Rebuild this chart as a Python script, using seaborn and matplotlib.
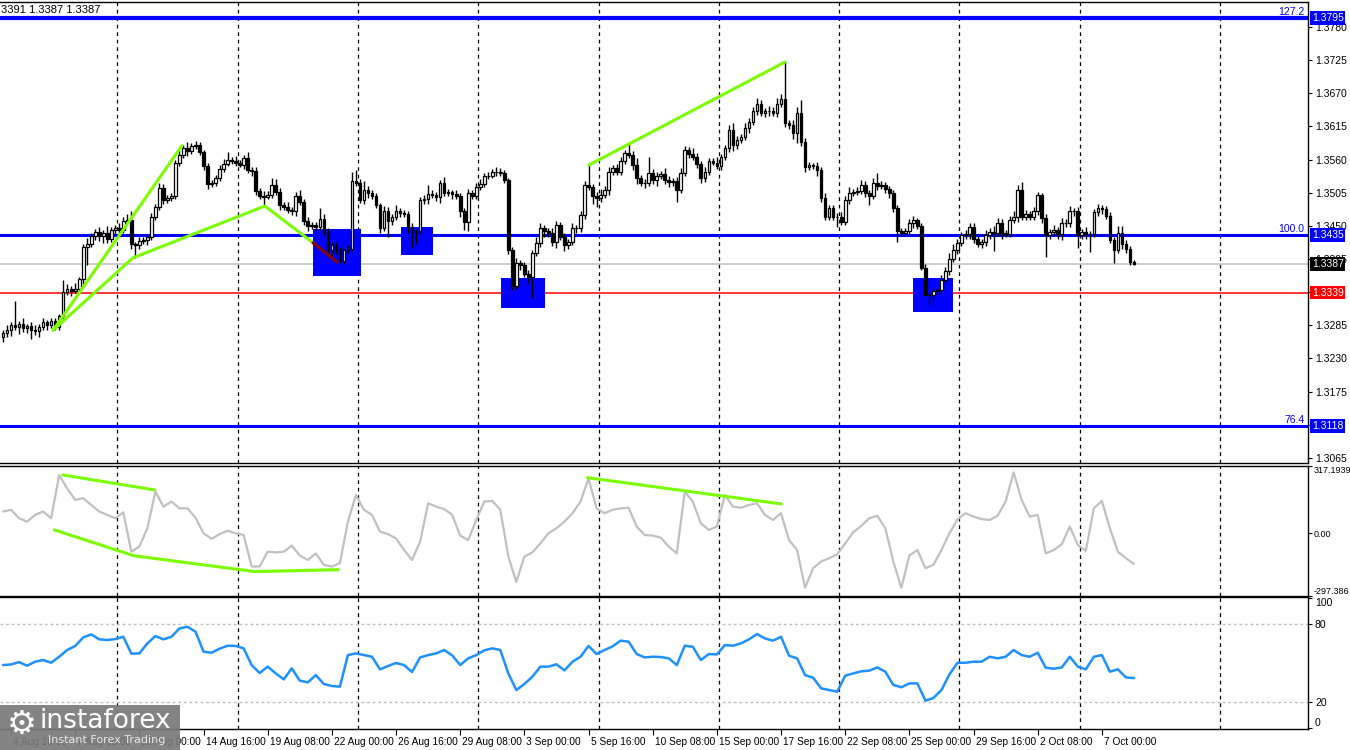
import numpy as np
import pandas as pd
import matplotlib
matplotlib.use("Agg")
import matplotlib.pyplot as plt
import matplotlib.transforms as mtransforms
from matplotlib.patches import Rectangle
import seaborn as sns

sns.set_theme(style="white")
plt.rcParams['font.family'] = ['Liberation Sans', 'DejaVu Sans']

# ---------------- data (prices in pips above 1.3000) ----------------
first_open = 265
close_pips = [
    272, 278, 285, 283, 287, 280, 284, 278, 275, 282, 290, 286, 292, 282, 300, 340, 345, 342, 345, 362,
    415, 420, 433, 440, 433, 438, 428, 444, 446, 443, 458, 460, 420, 418, 425, 427, 432, 465, 482, 513,
    493, 496, 500, 554, 568, 580, 574, 583, 585, 572, 549, 520, 522, 530, 545, 553, 560, 558, 554, 551,
    562, 543, 541, 508, 500, 498, 502, 518, 507, 485, 482, 476, 474, 500, 490, 458, 450, 452, 449, 462,
    440, 410, 418, 410, 392, 410, 412, 524, 522, 493, 510, 505, 500, 485, 446, 475, 458, 465, 474, 472,
    470, 448, 440, 441, 493, 495, 503, 501, 498, 521, 505, 506, 503, 500, 474, 457, 504, 500, 515, 520,
    532, 533, 539, 540, 538, 526, 410, 350, 388, 385, 371, 366, 405, 421, 446, 442, 438, 424, 452, 432,
    418, 424, 446, 446, 468, 518, 514, 500, 496, 501, 510, 540, 546, 540, 557, 571, 568, 551, 529, 522,
    521, 537, 526, 533, 536, 526, 523, 525, 510, 538, 576, 570, 565, 552, 529, 540, 557, 555, 550, 565,
    579, 609, 584, 593, 598, 612, 623, 640, 653, 637, 640, 641, 637, 653, 661, 620, 618, 604, 637, 590,
    548, 551, 550, 543, 496, 465, 479, 465, 465, 457, 493, 504, 507, 508, 518, 504, 499, 521, 516, 518,
    511, 505, 479, 441, 439, 441, 454, 460, 450, 380, 335, 336, 342, 343, 361, 375, 395, 410, 422, 435,
    437, 449, 428, 420, 424, 435, 440, 438, 455, 438, 437, 460, 464, 510, 465, 470, 465, 474, 501, 463,
    435, 440, 443, 436, 455, 454, 474, 475, 435, 440, 436, 436, 473, 480, 478, 467, 427, 410, 439, 420,
    411, 390, 387,
]
up_wick = [
    6, 8, 5, 40, 6, 10, 4, 6, 8, 5, 7, 4, 6, 5, 3, 20, 8, 6, 10, 4,
    5, 10, 6, 5, 8, 6, 12, 5, 6, 8, 7, 10, 15, 4, 6, 5, 4, 6, 5, 8,
    6, 5, 5, 6, 8, 5, 10, 4, 6, 5, 4, 6, 4, 5, 6, 8, 13, 4, 8, 5,
    6, 10, 5, 6, 5, 8, 6, 12, 10, 6, 5, 8, 6, 7, 10, 5, 6, 4, 5, 17,
    8, 6, 5, 6, 5, 4, 6, 16, 18, 6, 14, 6, 5, 4, 3, 8, 6, 5, 10, 6,
    5, 4, 6, 4, 5, 6, 15, 6, 5, 5, 10, 6, 4, 6, 5, 6, 8, 5, 6, 8,
    5, 6, 5, 8, 6, 4, 3, 5, 8, 6, 5, 6, 5, 10, 8, 6, 5, 8, 6, 5,
    6, 5, 8, 5, 6, 6, 33, 5, 6, 10, 6, 8, 5, 6, 7, 5, 17, 6, 12, 5,
    6, 27, 8, 6, 5, 10, 6, 5, 6, 8, 6, 5, 10, 6, 5, 8, 5, 6, 10, 5,
    6, 8, 12, 6, 5, 8, 6, 8, 10, 6, 5, 8, 6, 10, 8, 62, 6, 8, 10, 22,
    6, 5, 4, 6, 5, 8, 6, 5, 6, 8, 6, 11, 5, 6, 8, 6, 5, 8, 16, 6,
    5, 6, 4, 5, 6, 5, 8, 6, 3, 5, 6, 4, 5, 6, 8, 6, 10, 10, 6, 5,
    6, 5, 5, 6, 5, 8, 6, 10, 8, 6, 5, 6, 10, 8, 13, 6, 5, 8, 6, 4,
    6, 5, 8, 6, 8, 6, 9, 5, 6, 5, 8, 6, 5, 6, 4, 5, 6, 5, 11, 11,
    6, 5, 3,
]
dn_wick = [
    8, 6, 10, 5, 12, 6, 8, 15, 6, 10, 5, 8, 6, 4, 5, 6, 5, 8, 4, 6,
    8, 30, 5, 6, 8, 12, 6, 5, 8, 6, 5, 4, 8, 22, 6, 5, 8, 5, 6, 5,
    6, 5, 4, 6, 5, 6, 8, 5, 6, 4, 6, 8, 6, 5, 6, 5, 4, 6, 5, 4,
    6, 5, 8, 6, 5, 13, 4, 6, 5, 8, 6, 5, 6, 8, 5, 6, 8, 5, 6, 5,
    6, 8, 10, 6, 4, 6, 5, 4, 6, 5, 6, 8, 5, 6, 8, 5, 26, 6, 5, 8,
    6, 10, 27, 20, 5, 6, 8, 5, 6, 10, 5, 6, 8, 5, 10, 14, 15, 5, 6, 5,
    6, 5, 4, 6, 5, 5, 6, 6, 5, 8, 6, 10, 36, 5, 6, 10, 6, 8, 10, 6,
    10, 6, 5, 8, 6, 6, 5, 14, 14, 6, 5, 8, 6, 5, 6, 5, 6, 8, 10, 6,
    8, 5, 6, 10, 5, 6, 8, 6, 20, 5, 6, 8, 5, 6, 8, 6, 5, 4, 6, 8,
    5, 6, 10, 6, 5, 6, 8, 5, 6, 5, 6, 8, 5, 6, 5, 6, 8, 10, 17, 8,
    8, 5, 6, 11, 6, 5, 6, 5, 16, 6, 5, 6, 5, 6, 5, 6, 14, 5, 6, 5,
    6, 8, 6, 17, 5, 6, 5, 8, 5, 3, 2, 16, 12, 5, 6, 5, 6, 5, 6, 5,
    6, 8, 6, 5, 6, 8, 6, 29, 5, 10, 6, 5, 6, 8, 6, 5, 6, 5, 6, 8,
    37, 6, 5, 8, 10, 6, 5, 8, 22, 6, 8, 29, 5, 6, 8, 5, 6, 22, 5, 8,
    6, 5, 2,
]

# CCI and RSI, read every second bar
cci_values = [
    102, 110, 70, 54, 86, 102, 70, 274, 211, 157, 165, 133, 102, 86, 70, 98, -88, -64, 23, 196,
    125, 149, 117, 117, 73, -1, -27, -5, 11, -1, -9, -158, -158, -88, -91, -88, -59, -106, -127, -96,
    -150, -158, -142, 54, 180, 110, 86, 7, -5, -25, -80, -127, -41, 141, 125, 114, 86, -12, -33, 62,
    149, 152, 110, -111, -231, -111, -91, -49, -1, 23, 54, 94, 149, 259, 117, 94, 110, 117, 120, 31,
    -9, -12, -21, -64, -96, 196, 149, 46, 15, 31, 180, 125, 120, 133, 141, 86, 62, 94, -33, -80,
    -258, -166, -134, -119, -100, -49, 4, 34, 70, 82, 23, -134, -258, -106, -80, -166, -150, -80, -1, 65,
    94, 78, 66, 62, 82, 149, 287, 157, 78, 86, -96, -80, -53, 31, -56, -84, 117, 152, 23, -88,
    -119, -146,
]
rsi_values = [
    48.4, 48.9, 50.7, 47.9, 51.0, 52.3, 50.2, 54.8, 60.0, 63.1, 69.7, 72.0, 68.2, 67.7, 68.4, 70.2, 57.2, 57.4, 65.1, 70.7,
    68.2, 70.2, 76.6, 77.9, 74.1, 58.7, 57.9, 61.0, 63.3, 63.1, 61.3, 48.4, 42.3, 47.2, 42.0, 37.4, 45.9, 36.4, 35.1, 40.7,
    33.8, 32.3, 31.8, 56.1, 57.4, 56.1, 54.8, 45.1, 47.7, 50.0, 48.4, 43.1, 54.3, 56.1, 57.4, 60.0, 55.9, 48.4, 53.6, 56.1,
    59.7, 61.3, 60.0, 42.0, 29.2, 33.8, 39.5, 47.2, 47.2, 49.0, 44.3, 51.0, 54.8, 63.1, 56.9, 60.0, 62.8, 67.2, 66.4, 56.9,
    54.3, 54.8, 54.6, 53.6, 48.4, 63.3, 62.5, 52.3, 56.9, 56.6, 63.8, 63.3, 65.1, 68.2, 72.3, 68.9, 67.2, 70.2, 55.6, 53.6,
    40.7, 38.7, 30.5, 29.2, 27.9, 40.2, 42.0, 43.6, 44.1, 46.6, 43.3, 33.1, 31.3, 34.3, 34.3, 21.0, 23.1, 29.2, 41.3, 50.2,
    50.2, 51.0, 51.0, 54.8, 53.6, 54.8, 60.0, 56.1, 54.8, 57.9, 46.4, 45.6, 46.6, 54.8, 47.2, 45.1, 54.8, 56.1, 43.3, 45.1,
    38.9, 38.4,
]

# time axis labels (every 16 bars starting at bar 2)
time_labels = ["4 Aug 16:00", "7 Aug 08:00", "12 Aug 00:00", "14 Aug 16:00", "19 Aug 08:00",
               "22 Aug 00:00", "26 Aug 16:00", "29 Aug 08:00", "3 Sep 00:00", "5 Sep 16:00",
               "10 Sep 08:00", "15 Sep 00:00", "17 Sep 16:00", "22 Sep 08:00", "25 Sep 00:00",
               "29 Sep 16:00", "2 Oct 08:00", "7 Oct 00:00"]
week_start_bars = [29, 59, 89, 119, 149, 179, 209, 239, 269, 304]

# price axis tick values (step 0.0055)
price_ticks = [1.3065, 1.3120, 1.3175, 1.3230, 1.3285, 1.3340, 1.3395, 1.3450, 1.3505,
               1.3560, 1.3615, 1.3670, 1.3725, 1.3780]
hidden_tick_labels = [1.3120, 1.3340]   # fully covered by the level boxes

# levels
fib_levels = [(1.3795, "127.2"), (1.3435, "100.0"), (1.3118, "76.4")]
bid_price = 1.3387
support_price = 1.3339

# drawn objects (bar, pips)
zones = [(77.3, 89.3, 367, 445), (99.3, 107.2, 402, 448), (124.2, 135.2, 314, 364), (226.9, 236.9, 307, 364)]
green_lines = [
    [(12.5, 277), (44.6, 583)],
    [(12.5, 277), (32.4, 397), (65.3, 483), (77.3, 422)],
    [(146.1, 551), (195.0, 722)],
]
red_line = [(77.3, 422), (83.3, 390)]
cci_lines = [
    [(14.9, 275), (37.8, 204)],
    [(12.8, 15), (32.6, -107), (62.8, -182), (83.6, -173)],
    [(145.7, 262), (194.0, 138)],
]

# ---------------- derived frames ----------------
def px(p):
    return 1.3 + np.asarray(p, dtype=float) / 10000.0

n = len(close_pips)
bars = np.arange(n)
close = px(close_pips)
open_ = np.r_[px(first_open), close[:-1]]
high = np.maximum(open_, close) + np.asarray(up_wick) / 10000.0
low = np.minimum(open_, close) - np.asarray(dn_wick) / 10000.0
ind = pd.DataFrame({"bar": np.arange(0, n, 2)[:len(cci_values)], "cci": cci_values, "rsi": rsi_values})

# ---------------- figure ----------------
W, H = 1350, 750
fig = plt.figure(figsize=(W / 100, H / 100), dpi=100)
fig.patch.set_facecolor("white")

def rect(x0, y0, x1, y1):
    return [x0 / W, 1 - y1 / H, (x1 - x0) / W, (y1 - y0) / H]

ax1 = fig.add_axes(rect(0, 2, 1308, 463))
ax2 = fig.add_axes(rect(0, 466, 1308, 596), sharex=ax1)
ax3 = fig.add_axes(rect(0, 597, 1308, 729), sharex=ax1)

FS = 7.5
for ax in (ax1, ax2, ax3):
    ax.set_facecolor("white")
    for s in ("top", "right", "bottom"):
        ax.spines[s].set_visible(True)
        ax.spines[s].set_color("black")
        ax.spines[s].set_linewidth(1.0)
    ax.spines["left"].set_visible(False)
    ax.yaxis.tick_right()
    ax.tick_params(axis="y", which="both", right=True, left=False, length=3, width=0.8,
                   labelsize=FS, pad=2, colors="black")
    for wb in week_start_bars:
        ax.axvline(wb - 0.5, color="black", lw=0.9, ls=(0, (3, 3)), zorder=1)
    ax.grid(False)

ax1.set_xlim(-0.75, 325.4)

# ---- main price panel ----
ax1.set_ylim(1.30566, 1.38215)
ax1.set_yticks(price_ticks)
ax1.set_yticklabels(["" if t in hidden_tick_labels else f"{t:.4f}" for t in price_ticks])
ax1.tick_params(axis="x", bottom=False, labelbottom=False)

trans1 = mtransforms.blended_transform_factory(ax1.transAxes, ax1.transData)
for price, lab in fib_levels:
    lw = 3.0 if lab == "127.2" else 2.2
    ax1.axhline(price, color="#0000FF", lw=lw, zorder=1.5)
    ax1.text(0.997, price + 0.0002, lab, color="#0000FF", fontsize=FS, ha="right", va="bottom",
             transform=trans1)
ax1.axhline(bid_price, color="#C0C0C0", lw=1.1, zorder=1.5)
ax1.axhline(support_price, color="#FF0000", lw=1.1, zorder=1.5)

for b0, b1, p0, p1 in zones:
    ax1.add_patch(Rectangle((b0, px(p0)), b1 - b0, px(p1) - px(p0), facecolor="#0000FF",
                            edgecolor="none", zorder=2))

# candles
ax1.vlines(bars, low, high, color="black", lw=1.0, zorder=3)
body_low = np.minimum(open_, close)
body_h = np.maximum(np.abs(close - open_), 0.00004)
bull = close >= open_
ax1.bar(bars[bull], body_h[bull], bottom=body_low[bull], width=0.66, color="white",
        edgecolor="black", linewidth=0.9, zorder=4)
ax1.bar(bars[~bull], body_h[~bull], bottom=body_low[~bull], width=0.66, color="black",
        edgecolor="black", linewidth=0.9, zorder=4)

for line in green_lines:
    xs, ys = zip(*line)
    sns.lineplot(x=list(xs), y=list(px(ys)), ax=ax1, color="#7CFC00", lw=2.2, sort=False,
                 zorder=5, legend=False)
xs, ys = zip(*red_line)
sns.lineplot(x=list(xs), y=list(px(ys)), ax=ax1, color="#8B0000", lw=2.2, sort=False, zorder=6,
             legend=False)
ax1.set_xlabel("")
ax1.set_ylabel("")

# price boxes on right axis
boxes = [(1.3795, "#0000FF"), (1.3435, "#0000FF"), (1.3118, "#0000FF"),
         (bid_price, "black"), (support_price, "#FF0000")]
for price, col in boxes:
    ax1.text(1.003, price, f"{price:.4f}", transform=trans1, color="white", fontsize=FS,
             ha="left", va="center", clip_on=False, zorder=10,
             bbox=dict(facecolor=col, edgecolor="none", pad=1.2))

# ---- CCI panel ----
sns.lineplot(data=ind, x="bar", y="cci", ax=ax2, color="#C0C0C0", lw=1.6, legend=False, zorder=3)
for line in cci_lines:
    xs, ys = zip(*line)
    sns.lineplot(x=list(xs), y=list(ys), ax=ax2, color="#7CFC00", lw=2.2, sort=False, zorder=4,
                 legend=False)
ax2.set_ylim(-297.386, 317.1939)
ax2.set_yticks([-297.386, 0, 317.1939])
ax2.set_yticklabels(["-297.386", "0.00", "317.1939"])
ax2.tick_params(axis="y", labelsize=6.5, pad=1)
lbls = ax2.get_yticklabels()
lbls[0].set_va("bottom")
lbls[2].set_va("top")
ax2.tick_params(axis="x", bottom=False, labelbottom=False)
ax2.set_xlabel("")
ax2.set_ylabel("")

# ---- RSI panel ----
sns.lineplot(data=ind, x="bar", y="rsi", ax=ax3, color="#1E90FF", lw=1.8, legend=False, zorder=3)
for lvl in (80, 20):
    ax3.axhline(lvl, color="#C0C0C0", lw=1.0, ls=(0, (2, 2)), zorder=1)
ax3.set_ylim(-0.8, 100.8)
ax3.set_yticks([0, 20, 80, 100])
ax3.set_yticklabels(["0", "20", "80", "100"])
l3 = ax3.get_yticklabels()
l3[0].set_va("bottom")
l3[3].set_va("top")
ax3.set_xlabel("")
ax3.set_ylabel("")
ax3.set_xticks(np.arange(len(time_labels)) * 16 + 2)
ax3.set_xticklabels(time_labels, ha="left", fontsize=7.3)
ax3.tick_params(axis="x", bottom=True, length=4, width=0.8, pad=2, colors="black")
off = mtransforms.ScaledTranslation(2 / 100, 0, fig.dpi_scale_trans)
for lbl in ax3.get_xticklabels():
    lbl.set_transform(lbl.get_transform() + off)
ax3.set_xlim(-0.75, 325.4)

# ---- header text ----
fig.text(1 / W, 1 - 10 / H, "3391 1.3387 1.3387", fontsize=8, ha="left", va="center",
         color="black")

# ---- logo ----
fig.patches.append(Rectangle((0, 0), 180 / W, 45 / H, transform=fig.transFigure,
                             facecolor="#7a7a7a", edgecolor="none", alpha=0.92, zorder=20))
fig.text(7 / W, 1 - 724 / H, "\u2699", fontsize=24, color="white", ha="left", va="center",
         zorder=21, family=["DejaVu Sans"])
fig.text(40 / W, 1 - 721 / H, "instaforex", fontsize=19, color="white", ha="left", va="center",
         zorder=21, family=["DejaVu Sans"])
fig.text(48 / W, 1 - 740 / H, "Instant Forex Trading", fontsize=8, color="#e8e8e8", ha="left",
         va="center", zorder=21, family=["DejaVu Sans"])

fig.savefig("out.png", dpi=100, facecolor="white")
